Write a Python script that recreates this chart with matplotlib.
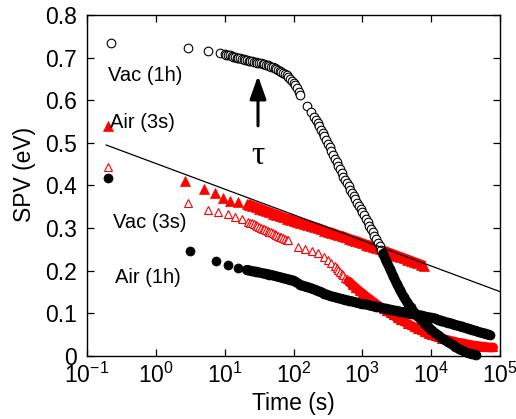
import matplotlib
matplotlib.use('Agg')
import matplotlib.pyplot as plt
from matplotlib.ticker import NullLocator, FixedLocator

plt.rcParams['font.family'] = ['Liberation Sans', 'DejaVu Sans']
plt.rcParams['mathtext.default'] = 'regular'

# Vac (1h) - open black circles
vac1h_t = [0.22, 2.9, 5.7, 8.5,
           10, 10.6, 11.2, 11.9, 12.6, 13.3, 14.1, 15.0, 15.8, 16.8, 17.8, 18.8,
           20.0, 21.1, 22.4, 23.7, 25.1, 26.6, 28.2, 29.9, 31.6, 33.5, 35.5, 37.6,
           39.8, 42.2, 44.7, 47.3, 50.1, 53.1, 56.2, 59.6, 63.1, 66.8, 70.8, 75.0,
           79.4, 84.1, 89.1, 94.4, 100, 106, 112, 119, 126,
           158, 178, 200, 211, 224, 237, 251, 266, 282, 299, 316, 335, 355, 376,
           398, 422, 447, 473, 501, 531, 562, 596, 631, 668, 708, 750, 794, 841,
           891, 944, 1000, 1060, 1120, 1190, 1260, 1330, 1410, 1500, 1580, 1680,
           1780, 1880, 2000, 2240, 2510, 2820,
           3160, 3550, 3980, 4470, 5010, 5620, 6310, 7080, 7940, 8910, 10000,
           11200, 12600, 14100, 15800, 17800, 20000, 22400, 25100, 28200, 31600,
           35500, 39800, 44700]
vac1h_v = [0.734, 0.723, 0.716, 0.711,
           0.708, 0.707, 0.706, 0.705, 0.704, 0.702, 0.701, 0.700, 0.699, 0.698,
           0.697, 0.696, 0.695, 0.694, 0.693, 0.692, 0.691, 0.690, 0.689, 0.688,
           0.688, 0.687, 0.686, 0.684, 0.683, 0.682, 0.680, 0.678, 0.677, 0.675,
           0.673, 0.671, 0.669, 0.667, 0.665, 0.662, 0.659, 0.655, 0.651, 0.646,
           0.641, 0.635, 0.628, 0.620, 0.612,
           0.587, 0.573, 0.560, 0.553, 0.546, 0.539, 0.531, 0.523, 0.515, 0.507,
           0.498, 0.490, 0.481, 0.472, 0.463, 0.455, 0.446, 0.438, 0.429, 0.421,
           0.413, 0.405, 0.398, 0.390, 0.383, 0.375, 0.368, 0.360, 0.353, 0.345,
           0.338, 0.330, 0.322, 0.314, 0.306, 0.298, 0.290, 0.282, 0.274, 0.265,
           0.257, 0.248, 0.240, 0.222, 0.205, 0.187,
           0.170, 0.154, 0.139, 0.126,
           0.114, 0.103, 0.094, 0.085, 0.077, 0.069, 0.062, 0.055, 0.049, 0.043,
           0.037, 0.032, 0.027, 0.022, 0.017, 0.013, 0.009, 0.006, 0.004, 0.003]

# Air (3s) - filled red triangles
air3s_t = [0.2, 2.66, 5.0, 7.2, 9.5, 12, 15.6, 21,
           22.4, 25.1, 28.2, 31.6, 35.5, 39.8, 44.7, 50.1, 56.2, 63.1, 70.8,
           79.4, 89.1, 100, 112, 126, 141, 158, 178, 200, 224, 251, 282, 316,
           355, 398, 447, 501, 562, 631, 708, 794, 891, 1000, 1120, 1260, 1410,
           1580, 1780, 2000, 2240, 2510, 2820, 3160, 3550, 3980, 4470, 5010,
           5620, 6310, 7080, 7940]
air3s_v = [0.54, 0.411, 0.392, 0.383, 0.371, 0.364, 0.361, 0.357,
           0.355, 0.352, 0.349, 0.346, 0.343, 0.340, 0.337, 0.334, 0.331, 0.328,
           0.325, 0.322, 0.320, 0.317, 0.315, 0.312, 0.310, 0.307, 0.305, 0.302,
           0.300, 0.297, 0.294, 0.291, 0.289, 0.286, 0.283, 0.281, 0.278, 0.275,
           0.272, 0.270, 0.267, 0.264, 0.261, 0.259, 0.256, 0.253, 0.250, 0.247,
           0.244, 0.241, 0.238, 0.235, 0.232, 0.229, 0.226, 0.223, 0.220, 0.217,
           0.214, 0.211]

# Vac (3s) - open red triangles
vac3s_t = [0.2, 2.93, 5.7, 8.0, 11.2, 14, 18, 21.8,
           23.7, 25.1, 26.6, 28.2, 29.9, 31.6, 33.5, 35.5, 37.6, 39.8, 42.2, 44.7,
           47.3, 50.1, 53.1, 56.2, 59.6, 63.1, 66.8, 70.8, 75.0, 79.4, 84.1,
           117, 148, 186, 230,
           282, 316, 355, 398, 422, 447, 473, 501, 531, 562, 596, 631, 708, 794,
           891, 1000, 1120, 1260, 1410, 1580, 1780, 2000, 2240, 2510, 2820, 3160,
           3550, 3980, 4470, 5010, 5620, 6310, 7080, 7940, 8910, 10000, 11200,
           12600, 14100, 15800, 17800, 20000, 22400, 25100, 28200, 31600, 35500,
           39800, 44700, 50100, 56200, 63100, 70800, 79400]
vac3s_v = [0.443, 0.360, 0.342, 0.338, 0.332, 0.327, 0.321, 0.315,
           0.313, 0.311, 0.309, 0.307, 0.305, 0.303, 0.301, 0.299, 0.297, 0.295,
           0.294, 0.292, 0.290, 0.288, 0.286, 0.284, 0.282, 0.280, 0.278, 0.276,
           0.275, 0.273, 0.271,
           0.256, 0.251, 0.247, 0.241,
           0.233, 0.226, 0.218, 0.210, 0.206, 0.202, 0.198, 0.193, 0.189, 0.184,
           0.180, 0.175, 0.167, 0.160, 0.153, 0.147, 0.140, 0.134, 0.128, 0.122,
           0.116, 0.111, 0.105, 0.100, 0.095, 0.090, 0.085, 0.081, 0.076, 0.072,
           0.068, 0.064, 0.060, 0.056, 0.052, 0.049, 0.046, 0.044, 0.041, 0.039,
           0.037, 0.035, 0.033, 0.031, 0.030, 0.028, 0.027, 0.025, 0.024, 0.023,
           0.022, 0.021, 0.020, 0.020]

# Air (1h) - filled black circles
air1h_t = [0.2, 3.14, 7.5, 11.2, 15.6, 21,
           22.4, 25.1, 28.2, 31.6, 35.5, 39.8, 44.7, 50.1, 56.2, 63.1, 70.8,
           79.4, 89.1, 100,
           126, 141, 158, 178, 200, 224, 251, 282, 316, 355, 398, 447, 501, 562,
           631, 708, 794, 891, 1000, 1120, 1260, 1410, 1580, 1780, 2000, 2240,
           2510, 2820, 3160, 3550, 3980, 4470, 5010, 5620, 6310, 7080, 7940,
           8910, 10000, 11200, 12600, 14100, 15800, 17800, 20000, 22400, 25100,
           28200, 31600, 35500, 39800, 44700, 50100, 56200, 63100, 70800]
air1h_v = [0.418, 0.247, 0.224, 0.213, 0.207, 0.202,
           0.201, 0.199, 0.198, 0.196, 0.194, 0.193, 0.191, 0.189, 0.187, 0.185,
           0.183, 0.181, 0.179, 0.177,
           0.167, 0.164, 0.162, 0.159, 0.156, 0.153, 0.150, 0.146, 0.143, 0.140,
           0.138, 0.136, 0.134, 0.132, 0.130, 0.128, 0.126, 0.124, 0.122, 0.121,
           0.119, 0.117, 0.116, 0.114, 0.112, 0.111, 0.109, 0.107, 0.106, 0.104,
           0.103, 0.101, 0.099, 0.098, 0.096, 0.095, 0.093, 0.091, 0.090, 0.088,
           0.085, 0.083, 0.080, 0.078, 0.076, 0.073, 0.071, 0.069, 0.066, 0.064,
           0.061, 0.059, 0.056, 0.054, 0.052, 0.049]

# straight reference line
fit_t = [0.19, 1e5]
fit_v = [0.495, 0.151]

y_ticks = [0, 0.1, 0.2, 0.3, 0.4, 0.5, 0.6, 0.7, 0.8]
y_labels = ['0', '0.1', '0.2', '0.3', '0.4', '0.5', '0.6', '0.7', '0.8']

fig = plt.figure(figsize=(5.16, 4.19), dpi=100)
ax = fig.add_axes([0.1686, 0.1504, 0.8004, 0.8138])

# where the measured points get so dense they merge into a solid band
i_v3 = vac3s_t.index(631)
i_a3 = air3s_t.index(21)
i_a1 = air1h_t.index(21)
i_v1 = vac1h_t.index(2000)

ax.plot(vac3s_t, vac3s_v, '^', ms=6.2, mfc='white', mec='red', mew=0.8, ls='none', clip_on=False)
ax.plot(vac3s_t[i_v3:], vac3s_v[i_v3:], '-', color='red', lw=7, solid_capstyle='round', clip_on=False)

ax.plot(air3s_t, air3s_v, '^', ms=7.2, mfc='red', mec='red', mew=0.5, ls='none', clip_on=False)
ax.plot(air3s_t[i_a3:], air3s_v[i_a3:], '-', color='red', lw=7.5, solid_capstyle='butt')

ax.plot(air1h_t, air1h_v, 'o', ms=6.5, mfc='black', mec='black', mew=0.5, ls='none', clip_on=False)
ax.plot(air1h_t[i_a1:], air1h_v[i_a1:], '-', color='black', lw=7.2, solid_capstyle='round')

ax.plot(vac1h_t, vac1h_v, 'o', ms=6.2, mfc='white', mec='black', mew=0.8, ls='none', clip_on=False)
ax.plot(vac1h_t[i_v1:], vac1h_v[i_v1:], '-', color='black', lw=7, solid_capstyle='round', clip_on=False)

ax.plot(fit_t, fit_v, '-', color='black', lw=0.9)

ax.annotate('', xy=(30.5, 0.657), xytext=(30.5, 0.54),
            arrowprops=dict(arrowstyle='-|>,head_length=1.4,head_width=0.5',
                            lw=2.2, color='black', shrinkA=0, shrinkB=0))
ax.text(30.5, 0.47, 'τ', fontsize=24, family=['Liberation Serif', 'DejaVu Serif'],
        ha='center', va='center')

ax.text(0.20, 0.657, 'Vac (1h)', fontsize=14.5, ha='left', va='center')
ax.text(0.216, 0.547, 'Air (3s)', fontsize=14.5, ha='left', va='center')
ax.text(0.239, 0.312, 'Vac (3s)', fontsize=14.5, ha='left', va='center')
ax.text(0.255, 0.183, 'Air (1h)', fontsize=14.5, ha='left', va='center')

ax.set_xscale('log')
ax.set_xlim(0.1, 1e5)
ax.set_ylim(0, 0.8)
ax.xaxis.set_minor_locator(NullLocator())
ax.yaxis.set_major_locator(FixedLocator(y_ticks))
ax.set_yticklabels(y_labels)

ax.tick_params(which='both', direction='in', top=True, right=True, length=5, width=0.9,
               labelsize=16.5)
ax.tick_params(axis='x', pad=5)
ax.tick_params(axis='y', pad=7)
for s in ax.spines.values():
    s.set_linewidth(1.0)

ax.set_xlabel('Time (s)', fontsize=16.5, labelpad=3)
ax.set_ylabel('SPV (eV)', fontsize=16.5)
ax.yaxis.set_label_coords(-0.124, 0.532)

fig.savefig('out.png', dpi=100)
